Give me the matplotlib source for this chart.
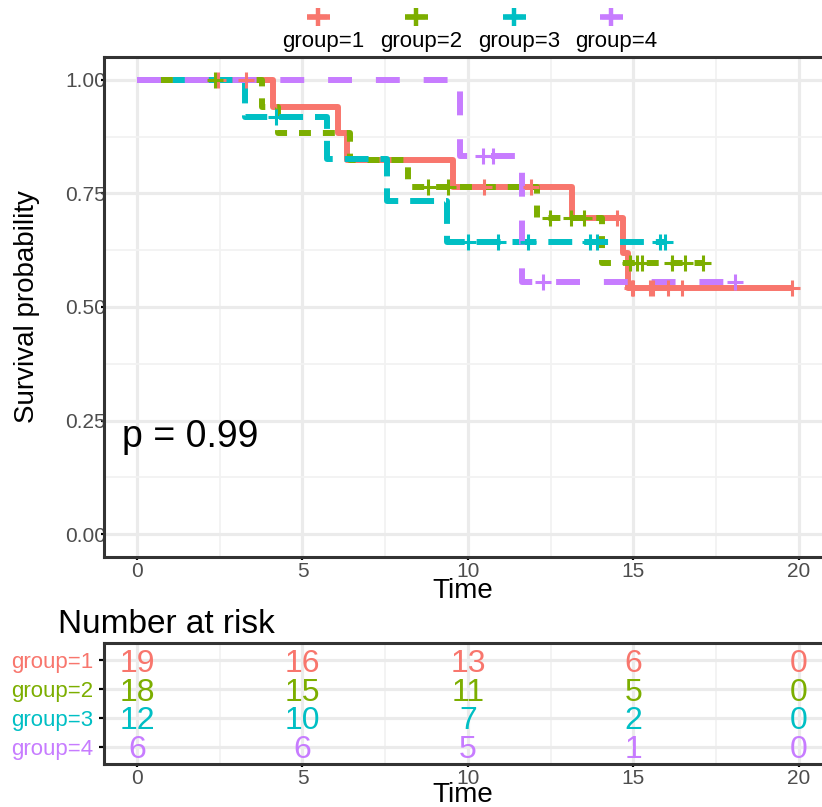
import numpy as np
import matplotlib.pyplot as plt
from matplotlib.lines import Line2D

plt.rcParams['font.family'] = ['Liberation Sans', 'DejaVu Sans']

groups = ['group=1', 'group=2', 'group=3', 'group=4']
colors = ['#F8766D', '#7CAE00', '#00BFC4', '#C77CFF']
styles = ['-', (0, (2, 2)), (0, (4, 2)), (0, (4, 4))]

# step curves (time, survival)
g1_t = [0, 4.1, 6.07, 6.34, 9.55, 13.15, 14.7, 14.85, 19.8]
g1_s = [1, 0.941, 0.882, 0.824, 0.765, 0.695, 0.618, 0.541, 0.541]
g1_cens = [2.45, 3.3, 10.48, 11.9, 14.5, 14.95, 15.0, 15.5, 15.6, 16.05, 16.47, 19.8]

g2_t = [0, 3.78, 4.26, 6.45, 8.2, 12.1, 14.05, 17.1]
g2_s = [1, 0.941, 0.882, 0.824, 0.765, 0.695, 0.596, 0.596]
g2_cens = [2.36, 8.8, 9.4, 12.48, 13.1, 13.5, 14.9, 15.1, 15.25, 16.16, 16.55, 17.1]

g3_t = [0, 3.27, 5.74, 7.55, 9.37, 15.95]
g3_s = [1, 0.917, 0.825, 0.733, 0.642, 0.642]
g3_cens = [4.2, 10.0, 10.9, 11.8, 13.7, 13.9, 15.8, 15.95]

g4_t = [0, 9.76, 11.63, 18.07]
g4_s = [1, 0.833, 0.556, 0.556]
g4_cens = [10.45, 10.75, 12.27, 18.07]

risk_times = [0, 5, 10, 15, 20]
risk_g1 = [19, 16, 13, 6, 0]
risk_g2 = [18, 15, 11, 5, 0]
risk_g3 = [12, 10, 7, 2, 0]
risk_g4 = [6, 6, 5, 1, 0]

pval_text = 'p = 0.99'

curves = [(g1_t, g1_s, g1_cens), (g2_t, g2_s, g2_cens),
          (g3_t, g3_s, g3_cens), (g4_t, g4_s, g4_cens)]
risks = [risk_g1, risk_g2, risk_g3, risk_g4]

W, H = 822, 807
def fx(px):
    return px / W
def fy(py):
    return 1 - py / H

TICK_COL = '#4D4D4D'
GRID_MAJ = '#EBEBEB'
GRID_MIN = '#F2F2F2'

# panel spans -1..21 over 103.9..832 px; the figure crops it at 822 px
LEFT_PX = 103.9
PPU = (832 - LEFT_PX) / 22.0
XMAX = -1 + (W - LEFT_PX) / PPU


def style(ax):
    ax.set_facecolor('white')
    for sp in ax.spines.values():
        sp.set_color('#333333')
        sp.set_linewidth(2.2)
    ax.spines['right'].set_visible(False)
    ax.tick_params(axis='both', which='major', length=2.5, width=1.6, color='black',
                   labelcolor=TICK_COL, labelsize=15)
    ax.tick_params(axis='both', which='minor', length=0)
    ax.tick_params(axis='y', pad=-4)
    ax.tick_params(axis='x', pad=1)
    ax.grid(which='major', color=GRID_MAJ, lw=2.3, zorder=0)
    ax.grid(which='minor', color=GRID_MIN, lw=1.3, zorder=0)
    ax.set_axisbelow(True)


fig = plt.figure(figsize=(W / 100, H / 100), dpi=100)

ax = fig.add_axes([fx(LEFT_PX), fy(557), (W - LEFT_PX) / W, 500 / H])
ax.set_xlim(-1, XMAX)
ax.set_ylim(-0.05, 1.05)
ax.set_xticks(risk_times)
ax.set_xticks([2.5, 7.5, 12.5, 17.5], minor=True)
ax.set_yticks([0, 0.25, 0.5, 0.75, 1.0])
ax.set_yticklabels(['0.00', '0.25', '0.50', '0.75', '1.00'])
ax.set_yticks([0.125, 0.375, 0.625, 0.875], minor=True)
style(ax)

for (t, s, cens), col, ls in zip(curves, colors, styles):
    ax.plot(t, s, drawstyle='steps-post', color=col, lw=4.3, ls=ls,
            solid_joinstyle='round', dash_joinstyle='round',
            dash_capstyle='butt', solid_capstyle='butt', zorder=3)
for (t, s, cens), col in zip(curves, colors):
    idx = np.searchsorted(t, cens, side='right') - 1
    ax.plot(cens, np.array(s)[idx], ls='none', marker='+', ms=11, mew=2.2,
            color=col, zorder=4)

ax.text(-0.45, 0.193, pval_text, fontsize=27, ha='left', va='baseline', zorder=5)
ax.set_xlabel('Time', fontsize=20, labelpad=-2)
ax.set_ylabel('Survival probability', fontsize=20, labelpad=18)

# legend on top
leg_left = [282, 380, 478, 575]
for name, col, lx in zip(groups, colors, leg_left):
    mx = lx + 36
    fig.add_artist(Line2D([fx(mx - 11.5), fx(mx + 11.5)], [fy(17), fy(17)],
                          color=col, lw=4.0, solid_capstyle='butt'))
    fig.add_artist(Line2D([fx(mx)], [fy(17)], marker='+', ms=13, mew=3.2,
                          color=col, ls='none'))
    fig.text(fx(lx), fy(47), name, fontsize=16, ha='left', va='baseline')

# number at risk table
tab = fig.add_axes([fx(LEFT_PX), fy(764), (W - LEFT_PX) / W, 121 / H])
tab.set_xlim(-1, XMAX)
tab.set_ylim(4.6, 0.4)
tab.set_xticks(risk_times)
tab.set_xticks([2.5, 7.5, 12.5, 17.5], minor=True)
tab.set_yticks([1, 2, 3, 4])
tab.set_yticklabels(groups)
style(tab)
tab.tick_params(axis='y', labelsize=16, pad=4, length=3.5)
tab.grid(which='minor', axis='y', visible=False)
for lab, col in zip(tab.get_yticklabels(), colors):
    lab.set_color(col)
for row, (vals, col) in enumerate(zip(risks, colors), start=1):
    for t, v in zip(risk_times, vals):
        tab.text(t, row, str(v), color=col, fontsize=23, ha='center',
                 va='center_baseline', zorder=5)
tab.set_xlabel('Time', fontsize=20, labelpad=-4)
fig.text(fx(58), fy(633), 'Number at risk', fontsize=24, ha='left', va='baseline')

fig.savefig('out.png', dpi=100)
